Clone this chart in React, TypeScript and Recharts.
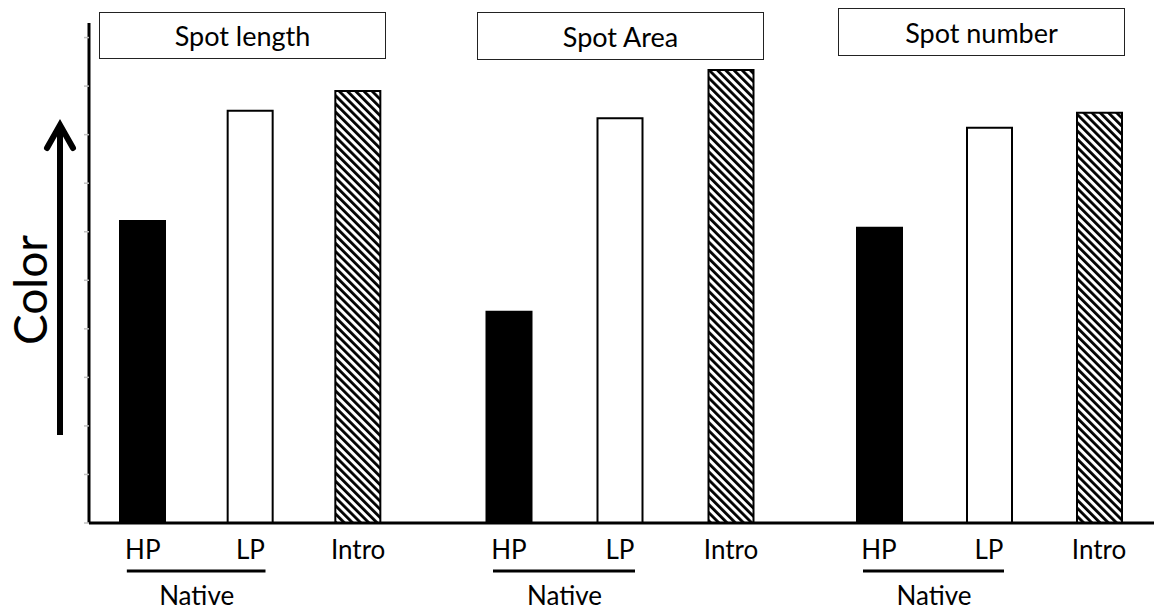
import { BarChart, Bar, XAxis, YAxis, Cell } from "recharts";

// three panels share the same categories and y scale
const categories = ["HP", "LP", "Intro"];
const spotLength = [6.22, 8.49, 8.9];
const spotArea = [4.35, 8.34, 9.33];
const spotNumber = [6.08, 8.14, 8.45];
const panelTitles = ["Spot length", "Spot Area", "Spot number"];
const panelValues = [spotLength, spotArea, spotNumber];
const groupLabel = "Native";
const yTicks = [0, 1, 2, 3, 4, 5, 6, 7, 8, 9, 10];
const yMax = 10.3;
const yLabel = "Color";

const barFills = ["#000000", "#ffffff", "url(#hatch)"];
const FONT = "Lato, 'Open Sans', sans-serif";

const HEIGHT = 613;

// layout of the three panels (page pixels)
const panels = [
  { left: 0, width: 432, marginLeft: 88, pad: { left: 0, right: 20 }, box: { left: 99, top: 12, h: 47 } },
  { left: 432, width: 373, marginLeft: 0, pad: { left: 21.5, right: 18.5 }, box: { left: 477, top: 12, h: 48 } },
  { left: 805, width: 349, marginLeft: 0, pad: { left: 19, right: 0 }, box: { left: 838, top: 8, h: 48 } },
];

function CategoryTick(props: any) {
  const { x, y, payload, index } = props;
  const band = payload && payload.offset ? payload.offset * 2 : 110;
  return (
    <g>
      <text x={x} y={y} dy={36} textAnchor="middle" fontSize={26} fontFamily={FONT} fill="#000">
        {payload.value}
      </text>
      {index === 0 && (
        <g>
          <line x1={x - 16} x2={x + band + 15} y1={y + 48} y2={y + 48} stroke="#000" strokeWidth={3} />
          <text x={x + band / 2} y={y + 82} textAnchor="middle" fontSize={26} fontFamily={FONT} fill="#000">
            {groupLabel}
          </text>
        </g>
      )}
    </g>
  );
}

function Panel({ idx }: { idx: number }) {
  const p = panels[idx];
  const data = categories.map((c, i) => ({ name: c, value: panelValues[idx][i] }));
  return (
    <div style={{ position: "absolute", left: p.left, top: 0 }}>
      <BarChart
        width={p.width}
        height={HEIGHT}
        data={data}
        margin={{ top: 23, right: 0, bottom: 60, left: p.marginLeft }}
        barSize={45}
      >
        <XAxis
          dataKey="name"
          height={30}
          padding={p.pad}
          axisLine={{ stroke: "#000", strokeWidth: 3 }}
          tickLine={false}
          tickSize={0}
          tickMargin={0}
          tick={<CategoryTick />}
          interval={0}
        />
        <YAxis
          hide={idx !== 0}
          width={1}
          domain={[0, yMax]}
          ticks={yTicks}
          tickFormatter={() => ""}
          tickSize={5}
          tickLine={{ stroke: "#c0c0c0", strokeWidth: 1.5 }}
          axisLine={{ stroke: "#000", strokeWidth: 3 }}
        />
        <Bar dataKey="value" stroke="#000" strokeWidth={2} isAnimationActive={false}>
          {data.map((d, i) => (
            <Cell key={d.name} fill={barFills[i]} />
          ))}
        </Bar>
      </BarChart>
      <div
        style={{
          position: "absolute",
          left: p.box.left - p.left,
          top: p.box.top,
          width: 287,
          height: p.box.h,
          boxSizing: "border-box",
          border: "1.5px solid #222",
          display: "flex",
          alignItems: "center",
          justifyContent: "center",
          fontFamily: FONT,
          fontSize: 27,
          color: "#000",
          background: "#fff",
        }}
      >
        {panelTitles[idx]}
      </div>
    </div>
  );
}

export default function App() {
  return (
    <div style={{ position: "absolute", left: 0, top: 0, width: 1154, height: HEIGHT, background: "#fff" }}>
      <svg width={0} height={0} style={{ position: "absolute" }}>
        <defs>
          <pattern id="hatch" patternUnits="userSpaceOnUse" width={5.8} height={5.8} patternTransform="rotate(-45)">
            <rect width={5.8} height={5.8} fill="#fff" />
            <rect width={2.8} height={5.8} fill="#000" />
          </pattern>
        </defs>
      </svg>
      {panels.map((_, i) => (
        <Panel key={i} idx={i} />
      ))}
      <svg width={100} height={HEIGHT} style={{ position: "absolute", left: 0, top: 0 }}>
        <line x1={60} x2={60} y1={128} y2={435} stroke="#000" strokeWidth={6} />
        <polyline points="47,148 60,125 73,148" fill="none" stroke="#000" strokeWidth={6} strokeLinecap="round" strokeLinejoin="miter" />
        <text
          x={47}
          y={290}
          transform="rotate(-90 47 290)"
          textAnchor="middle"
          fontSize={46}
          fontFamily={FONT}
          fill="#000"
        >
          {yLabel}
        </text>
      </svg>
    </div>
  );
}
